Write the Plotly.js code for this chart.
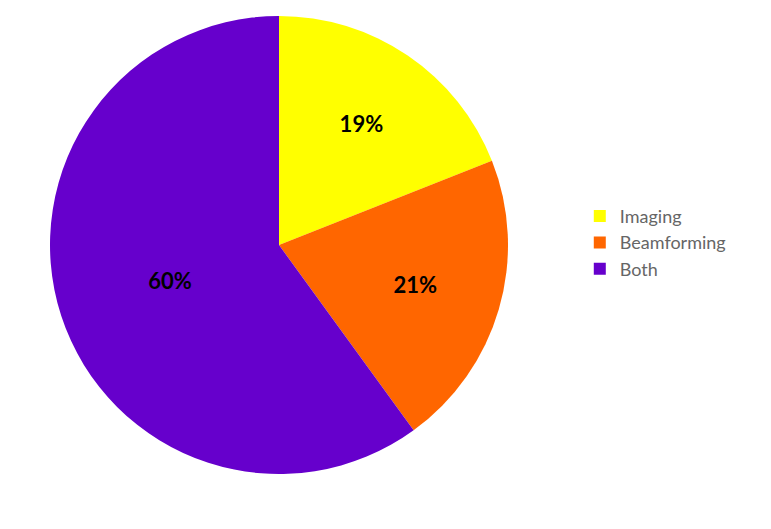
<!DOCTYPE html>
<html>
<head>
<meta charset="utf-8">
<script src="https://cdn.plot.ly/plotly-3.0.1.min.js"></script>
<style>
  html, body { margin: 0; padding: 0; background: #fff; }
  #chart { width: 771px; height: 529px; }
</style>
</head>
<body>
<div id="chart"></div>
<script>
// slice names and shares (percent)
const labels = ['Imaging', 'Beamforming', 'Both'];
const values = [19, 21, 60];
const colors = ['#ffff00', '#ff6600', '#6600cc'];

const trace = {
    type: 'pie',
    labels: labels,
    values: values,
    sort: false,
    direction: 'clockwise',
    rotation: 0,
    marker: { colors: colors, line: { width: 0 } },
    textinfo: 'percent',
    texttemplate: '%{percent:.0%}',
    textposition: 'inside',
    insidetextorientation: 'horizontal',
    insidetextfont: { family: 'Lato', size: 22, color: '#000', weight: 'bold' },
    hoverinfo: 'none',
    domain: { x: [50 / 771, 508 / 771], y: [1 - 474 / 529, 1 - 16 / 529] }
};

const layout = {
    width: 771,
    height: 529,
    margin: { l: 0, r: 0, t: 0, b: 0 },
    paper_bgcolor: '#fff',
    showlegend: true,
    legend: {
        x: 0.752,
        xanchor: 'left',
        y: 0.541,
        yanchor: 'middle',
        font: { family: 'Lato', size: 18, color: '#666' },
        tracegroupgap: 0
    }
};

Plotly.newPlot('chart', [trace], layout, { staticPlot: true });
</script>
</body>
</html>
